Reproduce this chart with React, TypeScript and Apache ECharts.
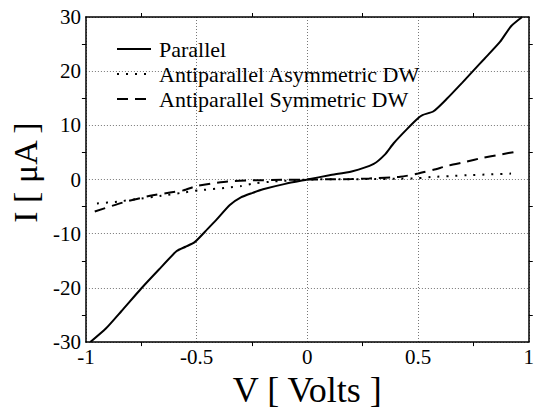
import React, { useEffect, useRef } from "react";
import * as echarts from "echarts";

const vParallel = [-0.98, -0.91, -0.84, -0.75, -0.67, -0.59, -0.55, -0.51, -0.45, -0.41, -0.35, -0.3, -0.25, -0.2, -0.1, 0, 0.1, 0.2, 0.3, 0.35, 0.39, 0.45, 0.5, 0.52, 0.57, 0.63, 0.7, 0.75, 0.8, 0.87, 0.92, 0.97];
const iParallel = [-30, -27.5, -24.3, -20.1, -16.6, -13.2, -12.4, -11.6, -9.1, -7.4, -4.7, -3.3, -2.5, -1.8, -0.8, 0, 0.8, 1.5, 2.9, 4.6, 6.7, 9.3, 11.3, 11.9, 12.6, 14.9, 17.9, 20.1, 22.3, 25.4, 28.3, 30];

const vAsym = [-0.95, -0.86, -0.77, -0.66, -0.56, -0.49, -0.36, -0.3, -0.24, -0.15, 0, 0.15, 0.3, 0.4, 0.5, 0.57, 0.65, 0.72, 0.82, 0.92];
const iAsym = [-4.4, -4.1, -3.6, -3.0, -2.4, -2.0, -1.5, -1.2, -0.7, -0.35, 0, 0.05, 0.1, 0.15, 0.25, 0.5, 0.65, 0.8, 0.95, 1.1];

const vSym = [-0.96, -0.83, -0.71, -0.62, -0.56, -0.5, -0.42, -0.36, -0.25, -0.1, 0, 0.1, 0.2, 0.28, 0.42, 0.5, 0.57, 0.64, 0.72, 0.79, 0.87, 0.95];
const iSym = [-5.9, -4.2, -3.0, -2.4, -2.0, -1.2, -0.65, -0.35, -0.15, -0.05, 0, 0.05, 0.1, 0.2, 0.5, 1.1, 1.8, 2.6, 3.3, 4.0, 4.6, 5.2];

const seriesNames = ["Parallel", "Antiparallel Asymmetric DW", "Antiparallel Symmetric DW"];
const xTitle = "V [ Volts ]";
const yTitle = "I [ μA ]";

const FONT = "Liberation Serif";

const zip = (xs: number[], ys: number[]) => xs.map((x, i) => [x, ys[i]]);

export default function App() {
  const ref = useRef<HTMLDivElement>(null);
  useEffect(() => {
    if (!ref.current) return;
    const chart = echarts.init(ref.current, undefined, { renderer: "svg" });
    const gridLine = { show: true, lineStyle: { color: "#777", type: [1, 2] as any, width: 1 } };
    const axisLine = { show: true, onZero: false, lineStyle: { color: "#000", width: 1.5 } };
    const minor = { show: true, splitNumber: 2, length: 4, lineStyle: { color: "#000", width: 1 } };
    const xBase = { type: "value" as const, min: -1, max: 1, interval: 0.5, axisLine, axisTick: { show: false }, minorTick: minor };
    const yBase = { type: "value" as const, min: -30, max: 30, interval: 10, axisLine, axisTick: { show: false }, minorTick: minor };
    chart.setOption({
      animation: false,
      textStyle: { fontFamily: FONT },
      grid: { left: 81, right: 3, top: 17, bottom: 55, containLabel: false },
      legend: {
        orient: "vertical",
        left: 111,
        top: 33,
        itemWidth: 34,
        itemHeight: 22,
        itemGap: 3,
        itemStyle: { color: "transparent", borderColor: "transparent", borderWidth: 0, opacity: 0 },
        textStyle: { fontFamily: FONT, fontSize: 22, color: "#000", padding: [0, 0, 0, 3] },
        data: seriesNames,
      },
      xAxis: [
        {
          ...xBase,
          position: "bottom",
          splitLine: gridLine,
          axisLabel: {
            fontFamily: FONT,
            fontSize: 21,
            color: "#000",
            margin: 4,
            formatter: (v: number) => String(v),
          },
          name: xTitle,
          nameLocation: "middle",
          nameGap: 21,
          nameTextStyle: { fontFamily: FONT, fontSize: 36, color: "#000", verticalAlign: "top" },
        },
        { ...xBase, position: "top", splitLine: { show: false }, axisLabel: { show: false } },
      ],
      yAxis: [
        {
          ...yBase,
          position: "left",
          splitLine: gridLine,
          axisLabel: { fontFamily: FONT, fontSize: 21, color: "#000", margin: 5 },
          name: yTitle,
          nameLocation: "middle",
          nameGap: 38,
          nameTextStyle: { fontFamily: FONT, fontSize: 34, color: "#000", padding: [0, 0, 0, 14] },
        },
        { ...yBase, position: "right", splitLine: { show: false }, axisLabel: { show: false } },
      ],
      series: [
        {
          name: seriesNames[0],
          type: "line",
          data: zip(vParallel, iParallel),
          symbol: "none",
          smooth: 0.2,
          lineStyle: { color: "#000", width: 2, type: "solid" },
          itemStyle: { color: "#000" },
        },
        {
          name: seriesNames[1],
          type: "line",
          data: zip(vAsym, iAsym),
          symbol: "none",
          smooth: 0.2,
          lineStyle: { color: "#000", width: 2, type: [2, 7] },
          itemStyle: { color: "#000" },
        },
        {
          name: seriesNames[2],
          type: "line",
          data: zip(vSym, iSym),
          symbol: "none",
          smooth: 0.2,
          lineStyle: { color: "#000", width: 2, type: [11, 7] },
          itemStyle: { color: "#000" },
        },
      ],
    });
    return () => chart.dispose();
  }, []);
  return <div ref={ref} style={{ width: 537, height: 413, position: "absolute", left: 0, top: 0 }} />;
}
